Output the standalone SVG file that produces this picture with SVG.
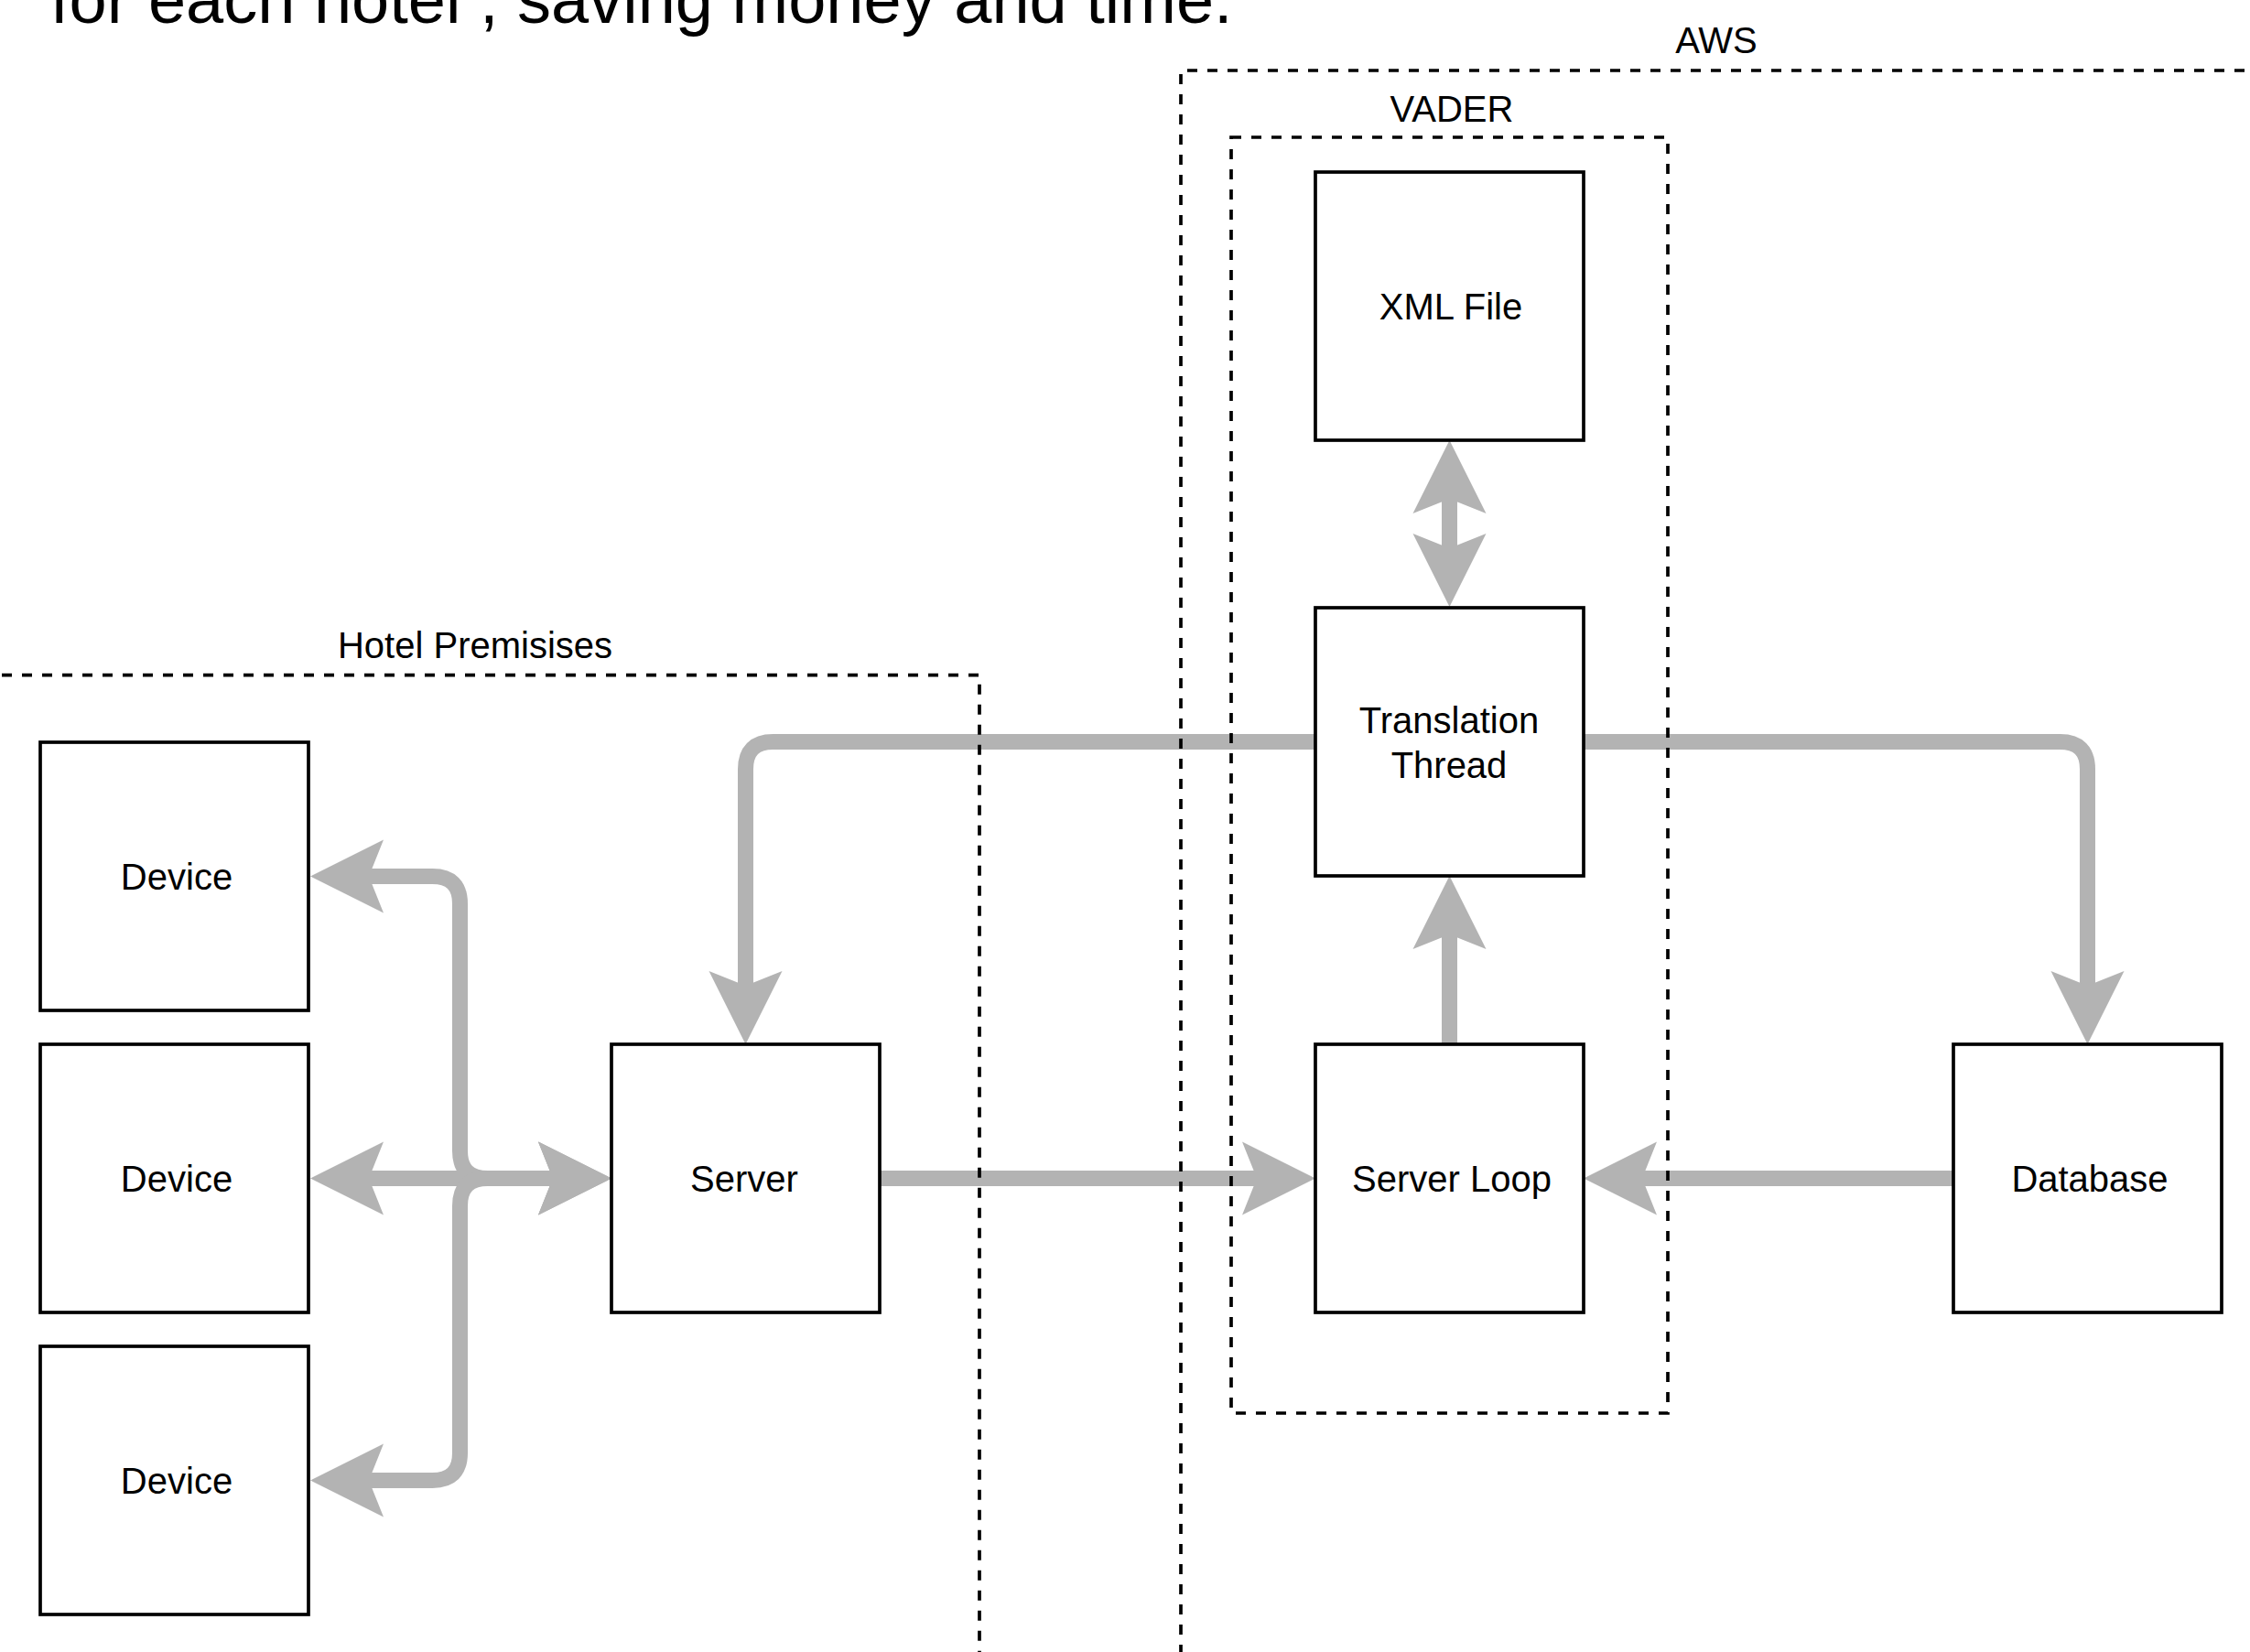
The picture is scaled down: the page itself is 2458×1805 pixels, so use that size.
<svg xmlns="http://www.w3.org/2000/svg" width="2458" height="1805" viewBox="0 0 2458 1805">
<style>
.node rect{fill:#fff;stroke:#000;stroke-width:3.7}
.lbl{font-family:"Liberation Sans",Arial,Helvetica,sans-serif;font-size:40px;fill:#000;text-anchor:middle}
.edge{fill:none;stroke:#b3b3b3;stroke-width:17;marker-end:url(#arr)}
.both{marker-start:url(#arr)}
.zone{fill:none;stroke:#000;stroke-width:3.7;stroke-dasharray:11 11}
</style>
<defs>
<marker id="arr" markerUnits="userSpaceOnUse" markerWidth="80" markerHeight="82" viewBox="0 0 80 82" refX="16" refY="41" orient="auto-start-reverse">
<path d="M0,1 L80,41 L0,81 L16,41 Z" fill="#b3b3b3"/>
</marker>
</defs>
<rect width="2458" height="1805" fill="#fff"/>
<text x="55" y="25" font-family="'Liberation Sans',Arial,Helvetica,sans-serif" font-size="74" fill="#000">for each hotel , saving money and time.</text>
<g id="connectors">
<path class="edge both" d="M403,957.5 H472.5 Q502.5,957.5 502.5,987.5 V1257.5 Q502.5,1287.5 532.5,1287.5 H604"/>
<path class="edge both" d="M403,1287.5 H604"/>
<path class="edge both" d="M403,1617.5 H472.5 Q502.5,1617.5 502.5,1587.5 V1317.5 Q502.5,1287.5 532.5,1287.5 H604"/>
<path class="edge" d="M1437,810.5 H844.5 Q814.5,810.5 814.5,840.5 V1077"/>
<path class="edge" d="M1730,810.5 H2250.5 Q2280.5,810.5 2280.5,840.5 V1077"/>
<path class="edge" d="M961,1287.5 H1373"/>
<path class="edge" d="M2134,1287.5 H1794"/>
<path class="edge" d="M1583.5,1141 V1021"/>
<path class="edge both" d="M1583.5,545 V599"/>
</g>
<g id="zone-hotel">
<path class="zone" d="M-20,737.7 H1070 V1830"/>
<text class="lbl" x="519" y="719">Hotel Premisises</text>
</g>
<g id="zone-aws">
<path class="zone" d="M1290,1830 V77 H2480"/>
<text class="lbl" x="1875" y="58">AWS</text>
</g>
<g id="zone-vader">
<rect class="zone" x="1345" y="150" width="477" height="1394"/>
<text class="lbl" x="1586" y="133">VADER</text>
</g>
<g id="device1" class="node"><rect x="44" y="811" width="293" height="293"/><text class="lbl" x="193" y="971.5">Device</text></g>
<g id="device2" class="node"><rect x="44" y="1141" width="293" height="293"/><text class="lbl" x="193" y="1301.5">Device</text></g>
<g id="device3" class="node"><rect x="44" y="1471" width="293" height="293"/><text class="lbl" x="193" y="1631.5">Device</text></g>
<g id="server" class="node"><rect x="668" y="1141" width="293" height="293"/><text class="lbl" x="813" y="1301.5">Server</text></g>
<g id="xml-file" class="node"><rect x="1437" y="188" width="293" height="293"/><text class="lbl" x="1585" y="349">XML File</text></g>
<g id="translation-thread" class="node"><rect x="1437" y="664" width="293" height="293"/><text class="lbl" x="1583" y="801">Translation</text><text class="lbl" x="1583" y="850">Thread</text></g>
<g id="server-loop" class="node"><rect x="1437" y="1141" width="293" height="293"/><text class="lbl" x="1586" y="1301.5">Server Loop</text></g>
<g id="database" class="node"><rect x="2134" y="1141" width="293" height="293"/><text class="lbl" x="2283" y="1301.5">Database</text></g>
</svg>
